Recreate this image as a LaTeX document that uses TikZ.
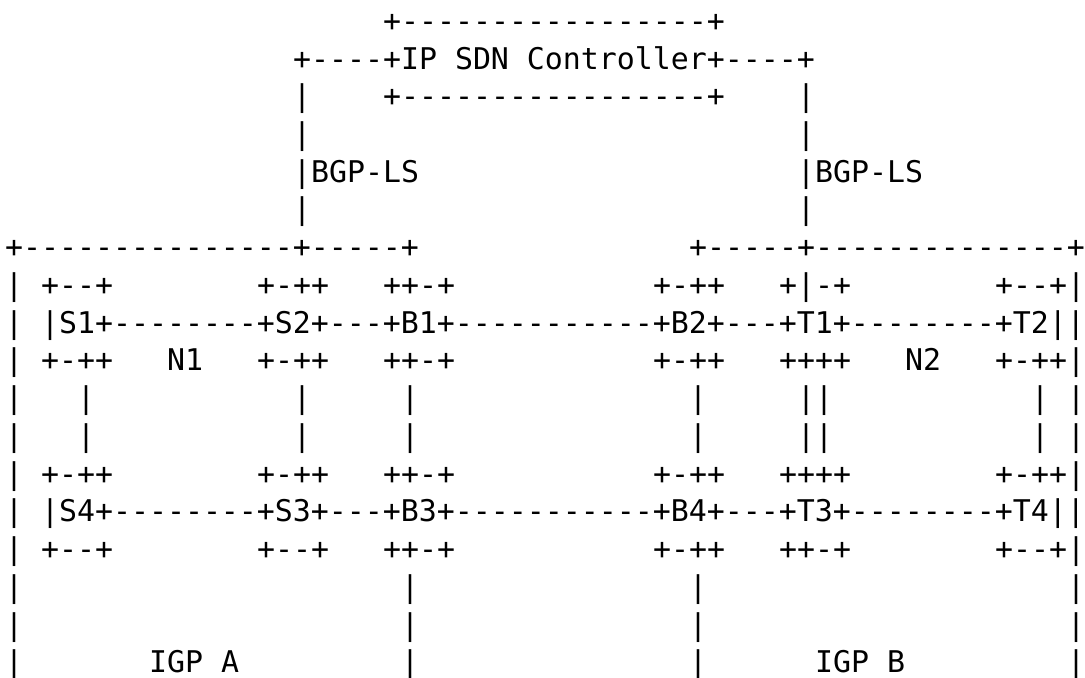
\documentclass[tikz,border=0pt]{standalone}
\usepackage{fontspec}
\setmonofont{DejaVu Sans Mono}
\begin{document}
% one unit in x is one character cell, one unit in y is one text line
\begin{tikzpicture}[x=9pt, y=-18.87pt,
  seg/.style={anchor=west, inner sep=0pt, outer sep=0pt,
    text height=0.8em, text depth=0.2em,
    font=\ttfamily\fontsize{14.95pt}{18.87pt}\selectfont, text=black}]
\useasboundingbox (-0.278,-0.670) rectangle (60.0,17.294);

% controller box
\node[seg] (r1a) at (21,0) {+-----------------+};
\node[seg] (r2a) at (16,1) {+----+IP SDN Controller+----+};
\node[seg] (r3a) at (16,2) {|};
\node[seg] (r3b) at (21,2) {+-----------------+};
\node[seg] (r3c) at (44,2) {|};
\node[seg] (r4a) at (16,3) {|};
\node[seg] (r4b) at (44,3) {|};
\node[seg] (r5a) at (16,4) {|BGP-LS};
\node[seg] (r5b) at (44,4) {|BGP-LS};
\node[seg] (r6a) at (16,5) {|};
\node[seg] (r6b) at (44,5) {|};

% domain borders
\node[seg] (r7a) at (0,6) {+---------------+-----+};
\node[seg] (r7b) at (38,6) {+-----+--------------+};

% upper routers
\node[seg] (r8a) at (0,7) {|};
\node[seg] (r8b) at (2,7) {+--+};
\node[seg] (r8c) at (14,7) {+-++};
\node[seg] (r8d) at (21,7) {++-+};
\node[seg] (r8e) at (36,7) {+-++};
\node[seg] (r8f) at (43,7) {+|-+};
\node[seg] (r8g) at (55,7) {+--+|};
\node[seg] (r9a) at (0,8) {|};
\node[seg] (r9b) at (2,8) {|S1+--------+S2+---+B1+-----------+B2+---+T1+--------+T2||};
\node[seg] (r10a) at (0,9) {|};
\node[seg] (r10b) at (2,9) {+-++};
\node[seg] (r10c) at (9,9) {N1};
\node[seg] (r10d) at (14,9) {+-++};
\node[seg] (r10e) at (21,9) {++-+};
\node[seg] (r10f) at (36,9) {+-++};
\node[seg] (r10g) at (43,9) {++++};
\node[seg] (r10h) at (50,9) {N2};
\node[seg] (r10i) at (55,9) {+-++|};

% vertical links
\foreach \r in {10,11}{
  \node[seg] (v\r a) at (0,\r) {|};
  \node[seg] (v\r b) at (4,\r) {|};
  \node[seg] (v\r c) at (16,\r) {|};
  \node[seg] (v\r d) at (22,\r) {|};
  \node[seg] (v\r e) at (38,\r) {|};
  \node[seg] (v\r f) at (44,\r) {||};
  \node[seg] (v\r g) at (57,\r) {|};
  \node[seg] (v\r h) at (59,\r) {|};
}

% lower routers
\node[seg] (r13a) at (0,12) {|};
\node[seg] (r13b) at (2,12) {+-++};
\node[seg] (r13c) at (14,12) {+-++};
\node[seg] (r13d) at (21,12) {++-+};
\node[seg] (r13e) at (36,12) {+-++};
\node[seg] (r13f) at (43,12) {++++};
\node[seg] (r13g) at (55,12) {+-++|};
\node[seg] (r14a) at (0,13) {|};
\node[seg] (r14b) at (2,13) {|S4+--------+S3+---+B3+-----------+B4+---+T3+--------+T4||};
\node[seg] (r15a) at (0,14) {|};
\node[seg] (r15b) at (2,14) {+--+};
\node[seg] (r15c) at (14,14) {+--+};
\node[seg] (r15d) at (21,14) {++-+};
\node[seg] (r15e) at (36,14) {+-++};
\node[seg] (r15f) at (43,14) {++-+};
\node[seg] (r15g) at (55,14) {+--+|};

% lower borders and domain labels
\foreach \r in {15,16}{
  \node[seg] (w\r a) at (0,\r) {|};
  \node[seg] (w\r b) at (22,\r) {|};
  \node[seg] (w\r c) at (38,\r) {|};
  \node[seg] (w\r d) at (59,\r) {|};
}
\node[seg] (r18a) at (0,17) {|};
\node[seg] (r18b) at (8,17) {IGP A};
\node[seg] (r18c) at (22,17) {|};
\node[seg] (r18d) at (38,17) {|};
\node[seg] (r18e) at (45,17) {IGP B};
\node[seg] (r18f) at (59,17) {|};
\end{tikzpicture}
\end{document}
